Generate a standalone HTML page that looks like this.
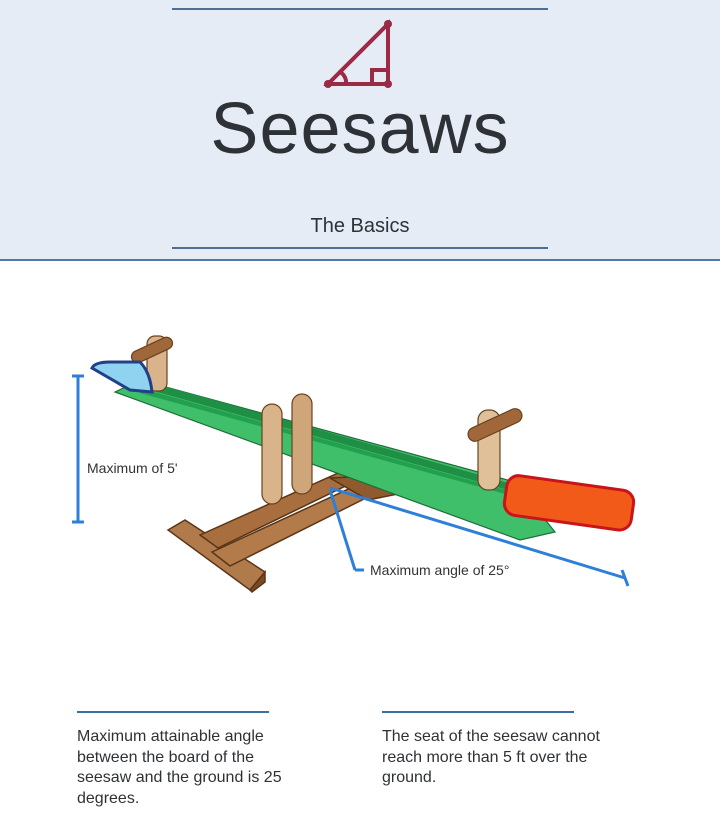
<!DOCTYPE html>
<html><head><meta charset="utf-8"><style>
body{margin:0;width:720px;height:840px;background:#fff;font-family:"Liberation Sans",sans-serif;position:relative;overflow:hidden}
.hdr{position:absolute;left:0;top:0;width:720px;height:259px;background:#e6ecf6;border-bottom:2px solid #4d78a8}
.hl{position:absolute;left:172px;width:376px;height:2px;background:#4d6f94}
.t{position:absolute;left:0;width:720px;text-align:center;color:#2e3136}
.p{position:absolute;font-size:16px;line-height:20.5px;color:#2e3136}
.bl{position:absolute;top:711px;height:2px;width:192px;background:#3b6ea5}
</style></head><body>
<div class="hdr">
<div class="hl" style="top:8px"></div>
<svg style="position:absolute;left:320px;top:18px" width="80" height="72" viewBox="0 0 80 72">
<g stroke="#9b2a45" stroke-width="4" fill="none" stroke-linecap="round">
<path d="M68 6 L68 66 L8 66 Z"/><path d="M52 66 L52 52 L68 52"/><path d="M20 54 A12 12 0 0 1 26 66"/></g>
<circle cx="68" cy="6" r="4" fill="#9b2a45"/><circle cx="68" cy="66" r="4" fill="#9b2a45"/><circle cx="8" cy="66" r="4" fill="#9b2a45"/></svg>
<div class="t" style="top:84px;font-size:72px;line-height:90px;letter-spacing:1px">Seesaws</div>
<div class="t" style="top:215px;font-size:20px">The Basics</div>
<div class="hl" style="top:247px"></div>
</div>
<svg style="position:absolute;left:0;top:0" width="720" height="840">
<g stroke="#5a3518" stroke-width="1.5">
<polygon points="168,530 185,520 265,572 250,590" fill="#b07a4a"/>
<polygon points="250,590 265,572 265,582 252,592" fill="#7a4a25"/>
<polygon points="200,535 345,470 362,478 218,548" fill="#a86e3e"/>
<polygon points="212,552 355,486 372,495 230,566" fill="#b37b4a"/>
<polygon points="330,478 372,476 398,494 368,500" fill="#8e5a2e"/>
</g>
<polygon points="140,380 515,482 555,532 520,540 115,392" fill="#3fbf6a" stroke="#1f6e3a" stroke-width="1.2"/>
<polygon points="150,382 515,485 515,492 150,390" fill="#1e8f45"/>
<polygon points="140,388 520,494 520,498 140,393" fill="#22a04e"/>
<g stroke="#6a421f" stroke-width="1.2">
<rect x="262" y="404" width="20" height="100" rx="10" fill="#d9b48a"/>
<rect x="292" y="394" width="20" height="100" rx="10" fill="#cfa57a"/>
<rect x="147" y="336" width="20" height="55" rx="8" fill="#d9b48a"/>
<rect x="130" y="344" width="44" height="12" rx="6" fill="#a0683a" transform="rotate(-25 152 350)"/>
<rect x="478" y="410" width="22" height="80" rx="10" fill="#dfc099"/>
<rect x="466" y="418" width="58" height="14" rx="7" fill="#a0683a" transform="rotate(-25 495 425)"/>
</g>
<path d="M92 368 Q95 362 110 362 L140 362 Q150 372 152 392 L130 390 Z" fill="#8fd3f0" stroke="#22408a" stroke-width="3"/>
<rect x="505" y="483" width="128" height="40" rx="12" fill="#f25a1a" stroke="#c8141a" stroke-width="3" transform="rotate(8 570 503)"/>
<g stroke="#2d7fd8" stroke-width="3" fill="none">
<path d="M78 376 L78 522 M72 376 L84 376 M72 522 L84 522"/>
<path d="M330 488 L625 578 M622 570 L628 586"/>
<path d="M330 490 L355 570 M355 570 L364 570"/>
</g>
<text x="87" y="473" font-family="Liberation Sans,sans-serif" font-size="14" fill="#333">Maximum of 5'</text>
<text x="370" y="575" font-family="Liberation Sans,sans-serif" font-size="14" fill="#333">Maximum angle of 25°</text>
</svg>
<div class="bl" style="left:77px"></div>
<div class="bl" style="left:382px"></div>
<div class="p" style="left:77px;top:727px;width:222px">Maximum attainable angle between the board of the seesaw and the ground is 25 degrees.</div>
<div class="p" style="left:382px;top:727px;width:245px">The seat of the seesaw cannot reach more than 5 ft over the ground.</div>
</body></html>
